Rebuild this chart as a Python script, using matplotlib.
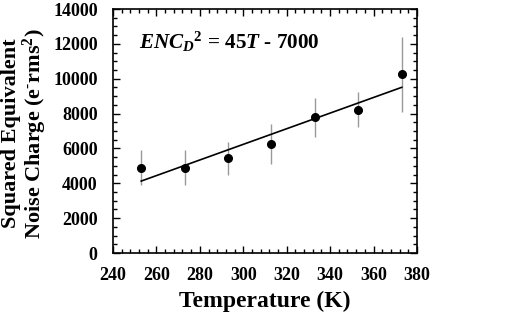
import matplotlib
matplotlib.use("Agg")
import matplotlib.pyplot as plt
from matplotlib.ticker import MultipleLocator

# data
temperature = [253, 273, 293, 313, 333, 353, 373]
noise_sq = [4900, 4900, 5450, 6250, 7780, 8220, 10250]
noise_err = [1000, 1020, 950, 1130, 1100, 1000, 2130]
fit_t = [253, 373]
fit_y = [4130, 9510]

plt.rcParams["font.family"] = "Liberation Serif"
plt.rcParams["font.weight"] = "bold"
plt.rcParams["mathtext.fontset"] = "custom"
plt.rcParams["mathtext.rm"] = "Liberation Serif:bold"
plt.rcParams["mathtext.it"] = "Liberation Serif:bold:italic"
plt.rcParams["mathtext.bf"] = "Liberation Serif:bold"

fig = plt.figure(figsize=(5.14, 3.24), dpi=100)
ax = fig.add_axes([0.2198, 0.219, 0.5914, 0.753])

ax.errorbar(temperature, noise_sq, yerr=noise_err, fmt="none",
            ecolor="#999999", elinewidth=1.0, capsize=0, zorder=1)
ax.plot(fit_t, fit_y, color="black", lw=1.2, zorder=2)
ax.plot(temperature, noise_sq, "o", color="black", ms=5.5, zorder=3)

ax.set_xlim(240, 380)
ax.set_ylim(0, 14000)
ax.xaxis.set_major_locator(MultipleLocator(20))
ax.xaxis.set_minor_locator(MultipleLocator(4))
ax.yaxis.set_major_locator(MultipleLocator(2000))
ax.yaxis.set_minor_locator(MultipleLocator(500))
ax.tick_params(which="both", direction="in", top=True, right=True, width=1.0)
ax.tick_params(which="major", length=5, labelsize=13)
ax.tick_params(axis="x", which="major", pad=10)
ax.tick_params(axis="y", which="major", pad=11)
ax.tick_params(which="minor", length=3)
for s in ax.spines.values():
    s.set_linewidth(1.2)

ax.set_xlabel("Temperature (K)", fontsize=17, fontweight="bold", labelpad=5)
ax.set_ylabel("Squared Equivalent\nNoise Charge (e$^{\\text{-}}$rms$^{2}$)",
              fontsize=16, fontweight="bold", linespacing=1.0)
ax.yaxis.set_label_coords(-0.21, 0.49)

ax.text(0.086, 0.836, r"$ENC_{D}{}^{\mathrm{2}}$ = 45$T$ - 7000",
        transform=ax.transAxes, fontsize=15.2, fontweight="bold",
        va="baseline")

fig.savefig("out.png", dpi=100)
